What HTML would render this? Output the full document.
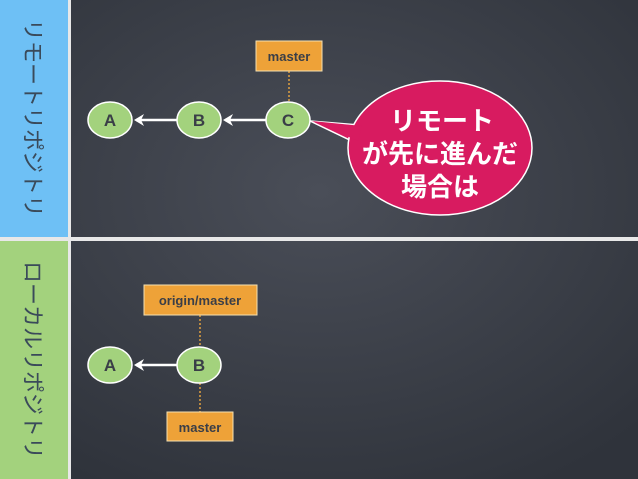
<!DOCTYPE html>
<html><head><meta charset="utf-8"><style>
body{margin:0;width:638px;height:479px;overflow:hidden;background:#3a3e47}
svg{display:block}
.side{position:absolute;left:0;width:68px;display:flex;align-items:center;justify-content:center;font-family:"Liberation Sans","Noto Sans CJK JP",sans-serif;font-size:22px;color:#3a4a5a;writing-mode:vertical-rl;text-orientation:sideways;white-space:nowrap;letter-spacing:0px}
</style></head><body>
<svg width="638" height="479" style="position:absolute;left:0;top:0">
<defs><radialGradient id="g" cx="50%" cy="40%" r="70%"><stop offset="0" stop-color="#4a4e58"/><stop offset="1" stop-color="#2f333b"/></radialGradient></defs>
<rect x="0" y="0" width="638" height="479" fill="url(#g)"/>
<rect x="0" y="0" width="68" height="237" fill="#6ec0f5"/>
<rect x="0" y="241" width="68" height="238" fill="#a3d27d"/>
<rect x="68" y="0" width="3" height="479" fill="#e8e8e8"/>
<rect x="0" y="237" width="638" height="4" fill="#e8e8e8"/>
<g font-family="Liberation Sans,sans-serif" font-weight="bold" font-size="17" fill="#3a3e47" text-anchor="middle">
<line x1="178" y1="120" x2="136" y2="120" stroke="#fff" stroke-width="2.5"/><path d="M134 120 L144 114 L141 120 L144 126Z" fill="#fff"/>
<line x1="267" y1="120" x2="225" y2="120" stroke="#fff" stroke-width="2.5"/><path d="M223 120 L233 114 L230 120 L233 126Z" fill="#fff"/>
<line x1="289" y1="71" x2="289" y2="102" stroke="#e0a040" stroke-width="1.5" stroke-dasharray="2 2"/>
<ellipse cx="110" cy="120" rx="22" ry="18" fill="#a3d27d" stroke="#fff" stroke-width="1.5"/><text x="110" y="126">A</text>
<ellipse cx="199" cy="120" rx="22" ry="18" fill="#a3d27d" stroke="#fff" stroke-width="1.5"/><text x="199" y="126">B</text>
<ellipse cx="288" cy="120" rx="22" ry="18" fill="#a3d27d" stroke="#fff" stroke-width="1.5"/><text x="288" y="126">C</text>
<rect x="256" y="41" width="66" height="30" fill="#eea238" stroke="#f5e0b0" stroke-width="1"/>
<text x="289" y="61" font-size="13">master</text>
<path d="M310 121 L360 125 L356 143 Z" fill="#d81b60" stroke="#fff" stroke-width="1.5"/>
<ellipse cx="440" cy="148" rx="92" ry="67" fill="#d81b60" stroke="#fff" stroke-width="1.5"/>
<path d="M312 121 L362 126 L358 141 Z" fill="#d81b60"/>
<g fill="#fff" font-size="26" font-weight="bold" font-family="Liberation Sans,Noto Sans CJK JP,sans-serif"><text x="442" y="130">リモート</text><text x="440" y="163">が先に進んだ</text><text x="440" y="196">場合は</text></g>
<line x1="178" y1="365" x2="136" y2="365" stroke="#fff" stroke-width="2.5"/><path d="M134 365 L144 359 L141 365 L144 371Z" fill="#fff"/>
<line x1="200" y1="315" x2="200" y2="347" stroke="#e0a040" stroke-width="1.5" stroke-dasharray="2 2"/>
<line x1="200" y1="383" x2="200" y2="412" stroke="#e0a040" stroke-width="1.5" stroke-dasharray="2 2"/>
<ellipse cx="110" cy="365" rx="22" ry="18" fill="#a3d27d" stroke="#fff" stroke-width="1.5"/><text x="110" y="371">A</text>
<ellipse cx="199" cy="365" rx="22" ry="18" fill="#a3d27d" stroke="#fff" stroke-width="1.5"/><text x="199" y="371">B</text>
<rect x="144" y="285" width="113" height="30" fill="#eea238" stroke="#f5e0b0" stroke-width="1"/>
<text x="200" y="305" font-size="13">origin/master</text>
<rect x="167" y="412" width="66" height="29" fill="#eea238" stroke="#f5e0b0" stroke-width="1"/>
<text x="200" y="432" font-size="13">master</text>
</g>
</svg>
<div class="side" style="top:0;height:237px">リモートリポジトリ</div>
<div class="side" style="top:241px;height:238px">ローカルリポジトリ</div>
</body></html>
